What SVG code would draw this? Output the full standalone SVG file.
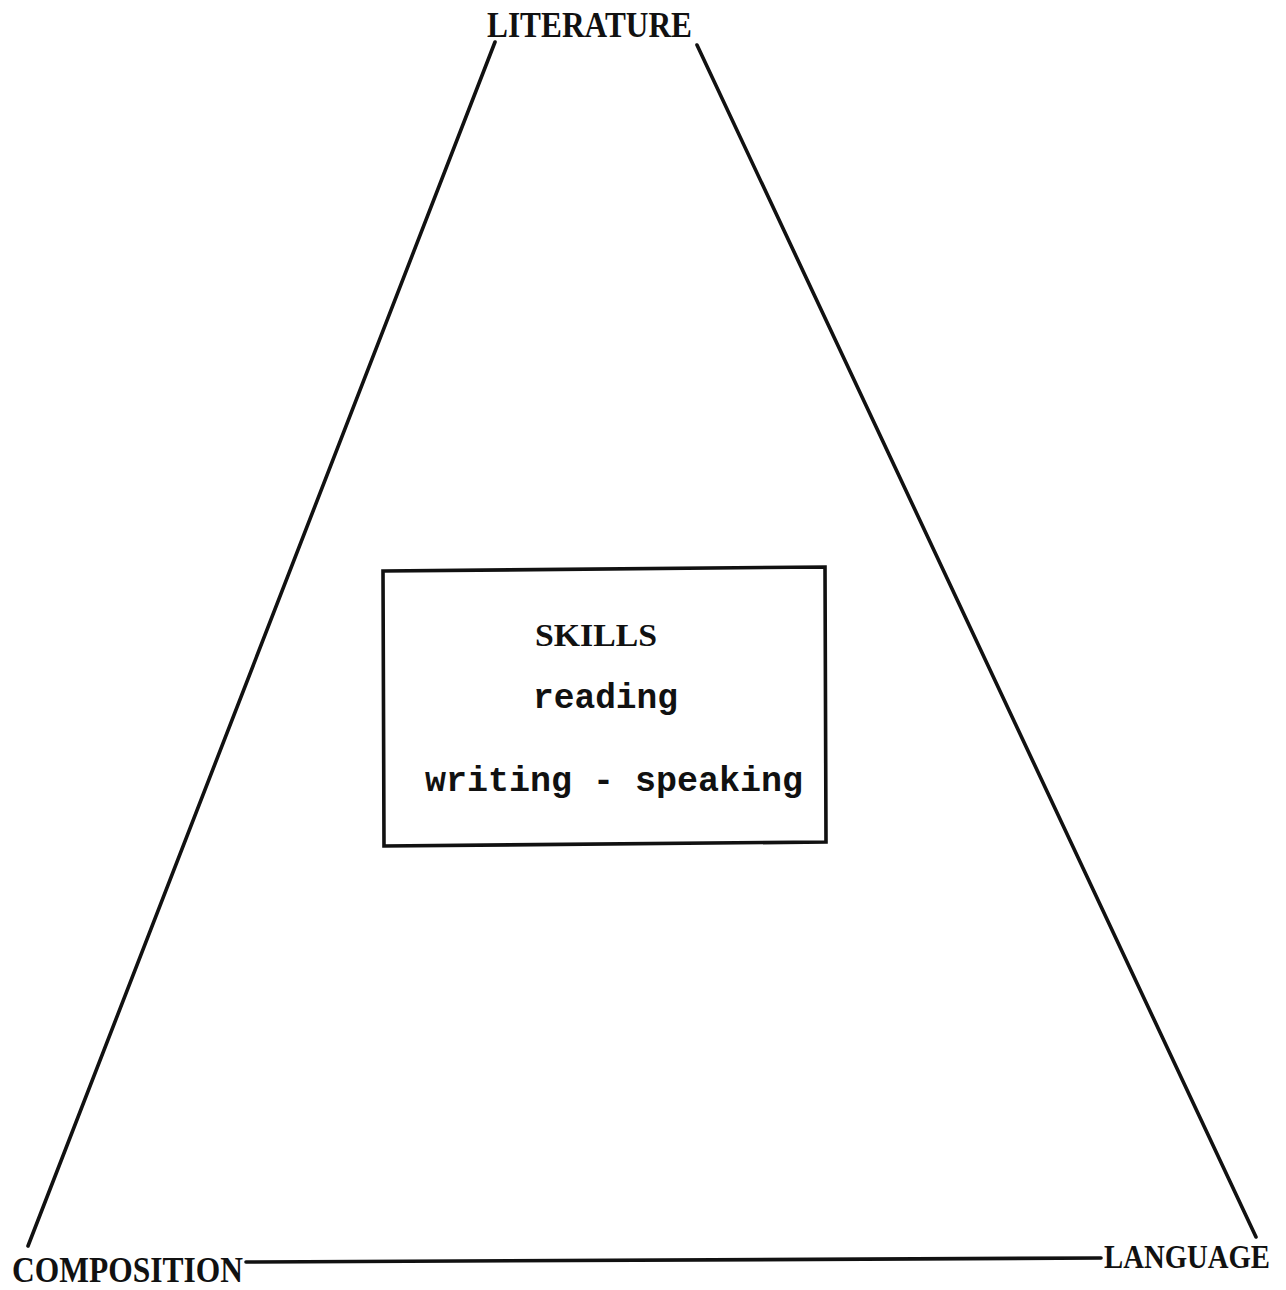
<svg xmlns="http://www.w3.org/2000/svg" width="1286" height="1290" viewBox="0 0 1286 1290">
<style>
.cap{font-family:"Liberation Serif",serif;font-weight:bold;fill:#111;}
.low{font-family:"Liberation Mono",monospace;font-weight:bold;fill:#111;}
.ln{stroke:#111;stroke-width:3.6;fill:none;stroke-linecap:round;}
</style>
<rect width="1286" height="1290" fill="#fff"/>
<g id="connectors">
<line class="ln" x1="495" y1="42" x2="28" y2="1246"/>
<line class="ln" x1="697" y1="45" x2="1256" y2="1237"/>
<line class="ln" x1="246" y1="1262" x2="1101" y2="1258"/>
</g>
<g id="literature"><text class="cap" x="487" y="37" font-size="35" textLength="205" lengthAdjust="spacingAndGlyphs">LITERATURE</text></g>
<g id="composition"><text class="cap" x="12" y="1282" font-size="35" textLength="231" lengthAdjust="spacingAndGlyphs">COMPOSITION</text></g>
<g id="language" transform="translate(0,1268) scale(1,1.12) translate(0,-1268)"><text class="cap" x="1104" y="1268" font-size="30" textLength="166" lengthAdjust="spacingAndGlyphs">LANGUAGE</text></g>
<g id="skills">
<path class="ln" d="M383,571 L825,567 L826,842 L384,846 Z" stroke-linecap="butt"/>
<text class="cap" x="535" y="646" font-size="32" textLength="122" lengthAdjust="spacingAndGlyphs">SKILLS</text>
<text class="low" x="533" y="708" font-size="35" textLength="145" lengthAdjust="spacingAndGlyphs">reading</text>
<text class="low" x="425" y="791" font-size="35" textLength="378" lengthAdjust="spacingAndGlyphs">writing - speaking</text>
</g>
</svg>
